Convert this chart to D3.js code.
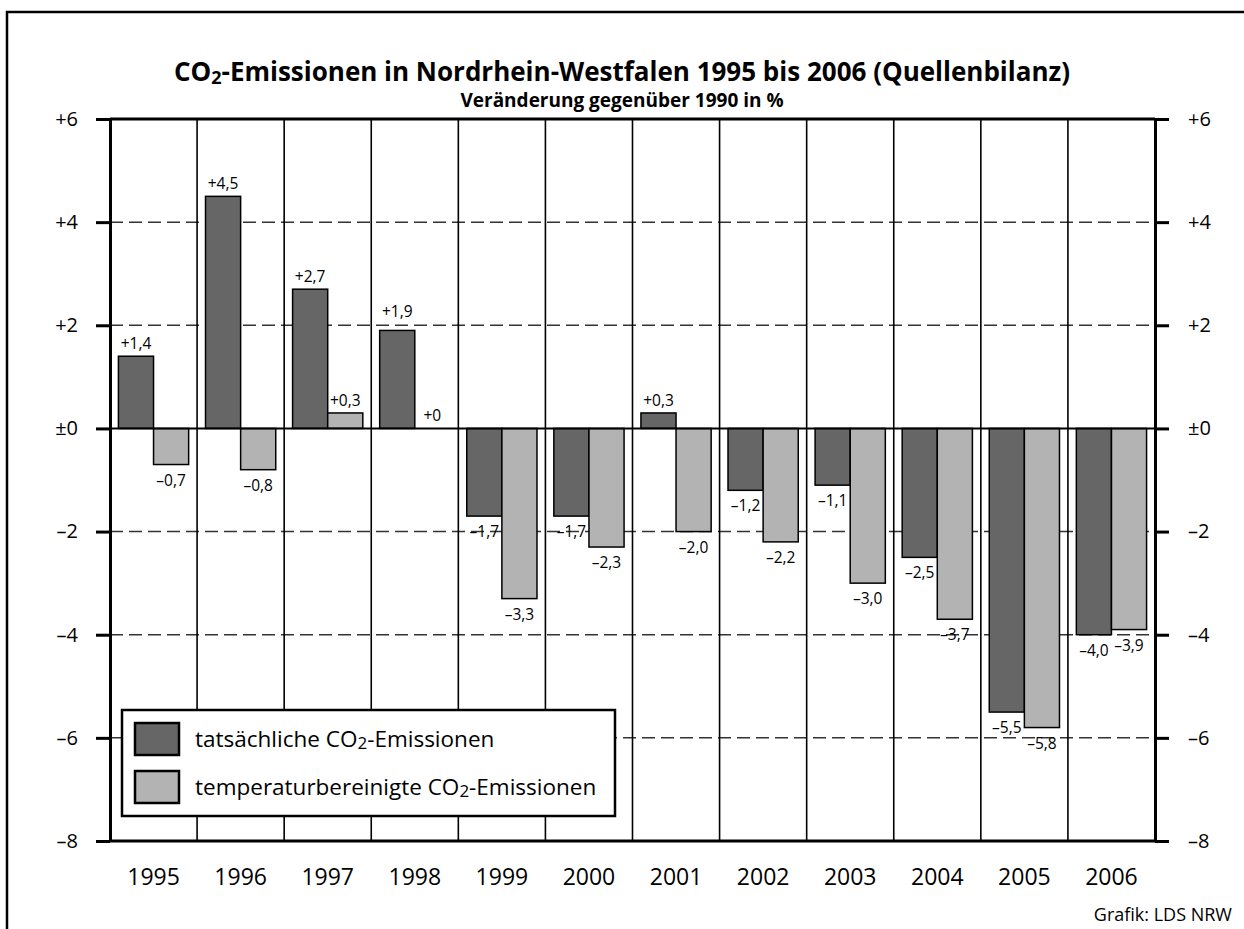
<!DOCTYPE html>
<html>
<head>
<meta charset="utf-8">
<script src="https://cdn.jsdelivr.net/npm/d3@7"></script>
<style>
  body { margin: 0; background: #fff; }
  text { font-family: "Open Sans", sans-serif; fill: #000; }
</style>
</head>
<body>
<div id="chart"></div>
<script>
// data
const years = ["1995", "1996", "1997", "1998", "1999", "2000", "2001", "2002", "2003", "2004", "2005", "2006"];
const actual = [1.4, 4.5, 2.7, 1.9, -1.7, -1.7, 0.3, -1.2, -1.1, -2.5, -5.5, -4.0];
const adjusted = [-0.7, -0.8, 0.3, 0.0, -3.3, -2.3, -2.0, -2.2, -3.0, -3.7, -5.8, -3.9];
const seriesKeys = ["actual", "adjusted"];
const seriesLabels = ["tatsächliche CO|2|-Emissionen", "temperaturbereinigte CO|2|-Emissionen"];
const seriesColors = ["#666666", "#b3b3b3"];
const yTicks = [6, 4, 2, 0, -2, -4, -6, -8];
const yTickLabels = ["+6", "+4", "+2", "±0", "–2", "–4", "–6", "–8"];
const gridTicks = [4, 2, -2, -4, -6];

const W = 1244, H = 929;
const margin = { top: 119, right: 89, bottom: 88, left: 110 };
const width = W - margin.left - margin.right;
const height = H - margin.top - margin.bottom;

const root = d3.select("#chart")
  .append("svg")
  .attr("width", W)
  .attr("height", H);

// outer frame (only top and left edges are visible in the original)
root.append("path")
  .attr("d", `M7,${H} V12 H${W}`)
  .attr("fill", "none")
  .attr("stroke", "#000")
  .attr("stroke-width", 2.5);

// title with subscript 2
const title = root.append("text")
  .attr("x", W / 2)
  .attr("y", 81)
  .attr("text-anchor", "middle")
  .style("font-size", "26px")
  .style("font-weight", 700);
title.append("tspan").text("CO");
title.append("tspan").text("2").style("font-size", "18px").attr("dy", 3);
title.append("tspan").text("-Emissionen in Nordrhein-Westfalen 1995 bis 2006 (Quellenbilanz)").attr("dy", -3);

root.append("text")
  .attr("x", W / 2)
  .attr("y", 107)
  .attr("text-anchor", "middle")
  .style("font-size", "19px")
  .style("font-weight", 700)
  .text("Veränderung gegenüber 1990 in %");

root.append("text")
  .attr("x", 1232)
  .attr("y", 921)
  .attr("text-anchor", "end")
  .style("font-size", "18px")
  .text("Grafik: LDS NRW");

const svg = root.append("g")
  .attr("transform", `translate(${margin.left},${margin.top})`);

const x = d3.scaleBand()
  .domain(years)
  .range([0, width])
  .padding(0);

const x1 = d3.scaleBand()
  .domain(seriesKeys)
  .range([0, x.bandwidth()])
  .paddingInner(0)
  .paddingOuter(0.24);

const y = d3.scaleLinear()
  .domain([-8, 6])
  .range([height, 0]);

// dashed grid
svg.append("g")
  .selectAll("line")
  .data(gridTicks)
  .enter()
  .append("line")
  .attr("x1", 0)
  .attr("x2", width)
  .attr("y1", d => y(d))
  .attr("y2", d => y(d))
  .attr("stroke", "#333")
  .attr("stroke-width", 1.5)
  .attr("stroke-dasharray", "13,6");

// column separators
svg.append("g")
  .selectAll("line")
  .data(years.slice(1))
  .enter()
  .append("line")
  .attr("x1", d => x(d))
  .attr("x2", d => x(d))
  .attr("y1", 0)
  .attr("y2", height)
  .attr("stroke", "#000")
  .attr("stroke-width", 1.6);

const data = years.map((yr, i) => ({ year: yr, actual: actual[i], adjusted: adjusted[i] }));
const flat = [];
data.forEach(d => seriesKeys.forEach((k, j) => flat.push({ year: d.year, key: k, value: d[k], color: seriesColors[j] })));

// bars
svg.append("g")
  .selectAll("rect")
  .data(flat.filter(d => d.value !== 0))
  .enter()
  .append("rect")
  .attr("x", d => x(d.year) + x1(d.key))
  .attr("width", x1.bandwidth())
  .attr("y", d => y(Math.max(0, d.value)))
  .attr("height", d => Math.abs(y(d.value) - y(0)))
  .attr("fill", d => d.color)
  .attr("stroke", "#000")
  .attr("stroke-width", 1.5);

// value labels (positive labels step up above a gridline that would cross them)
const fmt = v => (v < 0 ? "–" : "+") + (v === 0 ? "0" : d3.format(".1f")(Math.abs(v)).replace(".", ","));
const labelY = d => {
  if (d.value < 0) return y(d.value) + 21;
  const top = y(d.value);
  const hit = gridTicks.some(g => top - y(g) > 0 && top - y(g) < 14);
  return hit ? top - 13 : top - 7;
};
svg.append("g")
  .selectAll("text")
  .data(flat)
  .enter()
  .append("text")
  .attr("x", d => x(d.year) + x1(d.key) + x1.bandwidth() / 2)
  .attr("y", labelY)
  .attr("text-anchor", "middle")
  .style("font-size", "15.5px")
  .text(d => fmt(d.value));

// zero line
svg.append("line")
  .attr("x1", 0)
  .attr("x2", width)
  .attr("y1", y(0))
  .attr("y2", y(0))
  .attr("stroke", "#000")
  .attr("stroke-width", 2);

// axes
const yLeft = d3.axisLeft(y)
  .tickValues(yTicks)
  .tickFormat((d, i) => yTickLabels[i])
  .tickSize(14)
  .tickSizeOuter(0)
  .tickPadding(18);

const yRight = d3.axisRight(y)
  .tickValues(yTicks)
  .tickFormat((d, i) => yTickLabels[i])
  .tickSize(14)
  .tickSizeOuter(0)
  .tickPadding(19);

[svg.append("g").call(yLeft),
 svg.append("g").attr("transform", `translate(${width},0)`).call(yRight)]
  .forEach(g => {
    g.select(".domain").attr("stroke-width", 3);
    g.selectAll(".tick line").attr("stroke-width", 3);
    g.selectAll(".tick text").style("font-size", "20px");
    g.attr("font-family", null).attr("font-size", null);
  });

// top and bottom frame lines of the plot
svg.append("g")
  .selectAll("line")
  .data([6, -8])
  .enter()
  .append("line")
  .attr("x1", 0)
  .attr("x2", width)
  .attr("y1", d => y(d))
  .attr("y2", d => y(d))
  .attr("stroke", "#000")
  .attr("stroke-width", 3);

// year labels
svg.append("g")
  .attr("transform", `translate(0,${height})`)
  .call(d3.axisBottom(x).tickSize(0).tickPadding(0))
  .call(g => g.select(".domain").remove())
  .attr("font-family", null)
  .attr("font-size", null)
  .selectAll("text")
  .attr("y", 44)
  .attr("dy", null)
  .style("font-size", "23px");

// legend
const legend = svg.append("g")
  .attr("transform", `translate(${122 - margin.left},${710 - margin.top})`);

legend.append("rect")
  .attr("width", 493)
  .attr("height", 106)
  .attr("fill", "#fff")
  .attr("stroke", "#000")
  .attr("stroke-width", 2.5);

seriesLabels.forEach((lab, i) => {
  const row = legend.append("g").attr("transform", `translate(13,${13 + i * 48})`);
  row.append("rect")
    .attr("width", 44)
    .attr("height", 32)
    .attr("fill", seriesColors[i])
    .attr("stroke", "#000")
    .attr("stroke-width", 2.5);
  const parts = lab.split("|");
  const t = row.append("text")
    .attr("x", 60)
    .attr("y", 24)
    .style("font-size", "22.5px");
  t.append("tspan").text(parts[0]);
  t.append("tspan").text(parts[1]).style("font-size", "17px").attr("dy", 2);
  t.append("tspan").text(parts[2]).attr("dy", -2);
});
</script>
</body>
</html>
